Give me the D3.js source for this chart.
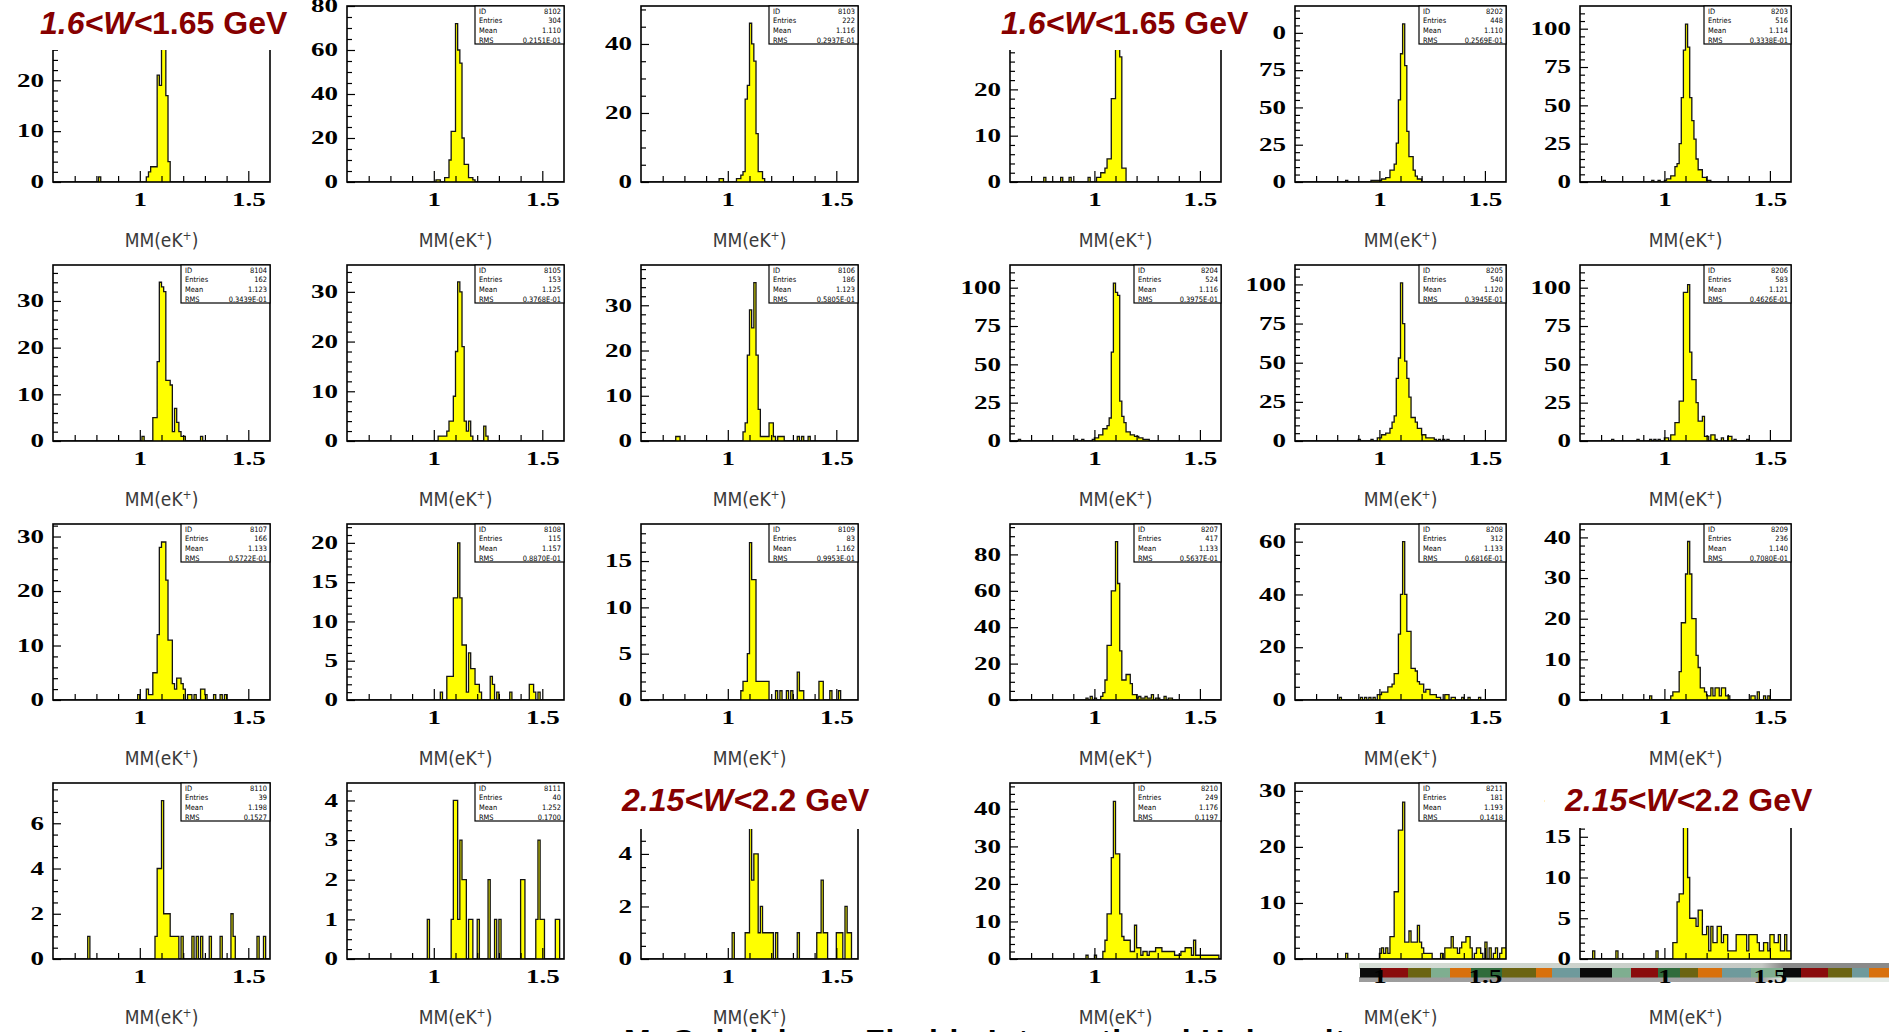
<!DOCTYPE html>
<html>
<head>
<meta charset="utf-8">
<title>MM(eK+) histograms</title>
<script src="https://cdn.jsdelivr.net/npm/d3@7"></script>
<style>
  body { margin: 0; background: #fff; }
  svg { display: block; }
</style>
</head>
<body>
<div id="vis"></div>
<script>
// ---- values ----

// every histogram: MM(eK+) from 0.6 to 1.6 GeV in 100 bins
const X_LO = 0.6;
const X_HI = 1.6;
const N_BINS = 100;
const X_MAJOR = [1, 1.5];
const X_MINOR = [0.7, 0.8, 0.9, 1.1, 1.2, 1.3, 1.4];

// ids, row by row, six per row (left block 81xx, right block 82xx)
const HIST_IDS = ["8101", "8102", "8103", "8201", "8202", "8203",
                  "8104", "8105", "8106", "8204", "8205", "8206",
                  "8107", "8108", "8109", "8207", "8208", "8209",
                  "8110", "8111", "8112", "8210", "8211", "8212"];

// non-empty bins as [bin index, entries]
const H8101 = [[21,1],[43,1],[44,2],[45,3],[46,3],[47,3],[48,21],[49,19],[50,33],[51,30],[52,17],[53,4]];
const H8102 = [[41,1],[42,1],[45,2],[46,2],[47,10],[48,23],[49,23],[50,72],[51,60],[52,54],[53,20],[54,8],[55,8],[56,2],[57,2],[58,1]];
const H8103 = [[36,1],[37,1],[44,1],[45,1],[46,2],[47,3],[48,24],[49,28],[50,46],[51,40],[52,35],[53,14],[54,3],[55,3],[56,1]];
const H8201 = [[16,1],[24,1],[28,1],[37,1],[41,1],[42,1],[43,2],[44,2],[45,3],[46,5],[47,5],[48,18],[49,18],[50,33],[51,30],[52,27],[53,3],[54,3]];
const H8202 = [[24,1],[36,1],[37,1],[38,1],[39,1],[40,1],[41,2],[42,2],[43,3],[44,3],[45,8],[46,8],[47,12],[48,26],[49,55],[50,86],[51,106],[52,78],[53,34],[54,17],[55,17],[56,8],[57,4],[58,2],[59,2]];
const H8203 = [[11,1],[34,1],[37,1],[40,1],[41,2],[42,2],[43,4],[44,4],[45,10],[46,12],[47,25],[48,55],[49,86],[50,103],[51,88],[52,55],[53,40],[54,28],[55,15],[56,8],[57,8],[58,3],[59,3],[60,1],[61,1]];

const H8104 = [[41,1],[46,5],[47,5],[48,17],[49,34],[50,33],[51,32],[52,13],[53,13],[54,12],[55,2],[56,7],[57,4],[58,2],[59,1],[60,1],[68,1]];
const H8105 = [[42,1],[43,1],[44,1],[45,1],[46,2],[47,4],[48,4],[49,9],[50,18],[51,32],[52,30],[53,19],[54,4],[55,2],[56,4],[57,1],[63,3],[64,1]];
const H8106 = [[16,1],[17,1],[47,2],[48,4],[49,19],[50,29],[51,25],[52,35],[53,19],[54,7],[55,1],[56,1],[57,1],[58,1],[59,4],[60,4],[61,1],[63,1],[64,1],[65,1],[72,1],[74,1],[77,1]];
const H8204 = [[4,1],[31,1],[34,1],[39,1],[40,2],[41,2],[42,4],[43,4],[44,8],[45,8],[46,10],[47,15],[48,58],[49,103],[50,97],[51,95],[52,26],[53,16],[54,12],[55,6],[56,6],[57,4],[58,4],[59,3],[60,3],[61,2],[62,2],[63,1],[64,1],[65,1]];
const H8205 = [[30,1],[36,1],[39,2],[40,2],[41,4],[42,4],[43,5],[44,5],[45,8],[46,12],[47,16],[48,40],[49,53],[50,101],[51,75],[52,51],[53,40],[54,28],[55,15],[56,15],[57,12],[58,8],[59,8],[60,4],[61,4],[62,2],[63,2],[64,2],[65,2],[66,1],[68,1],[70,1],[72,1]];
const H8206 = [[15,1],[27,1],[33,1],[35,1],[37,1],[40,2],[41,2],[43,4],[44,4],[45,12],[46,12],[47,26],[48,26],[49,97],[50,97],[51,102],[52,58],[53,40],[54,40],[55,25],[56,13],[57,13],[58,16],[59,3],[60,3],[62,4],[63,4],[64,1],[67,2],[70,3],[71,3],[73,1],[79,1]];

const H8107 = [[39,1],[43,2],[44,1],[45,1],[46,5],[47,5],[48,12],[49,28],[50,29],[51,29],[52,22],[53,11],[54,11],[55,3],[56,2],[57,4],[58,4],[59,3],[60,2],[62,1],[63,1],[65,1],[68,2],[69,2],[70,1],[74,1],[77,1],[79,1]];
const H8108 = [[43,1],[46,3],[47,3],[48,3],[49,13],[50,13],[51,20],[52,13],[53,7],[54,7],[55,1],[56,6],[57,4],[58,4],[59,2],[60,2],[61,1],[66,3],[67,2],[69,1],[75,1],[84,2],[85,2],[86,1],[88,1]];
const H8109 = [[46,1],[47,2],[48,2],[49,5],[50,17],[51,13],[52,13],[53,2],[54,2],[55,2],[56,2],[57,2],[58,2],[62,1],[64,1],[67,1],[69,1],[72,3],[73,1],[74,1],[82,2],[83,2],[87,1],[91,1]];
const H8207 = [[36,1],[38,2],[40,1],[43,2],[44,4],[45,11],[46,30],[47,30],[48,60],[49,60],[50,87],[51,64],[52,27],[53,11],[54,11],[55,14],[56,14],[57,9],[58,3],[59,3],[60,1],[61,2],[62,1],[63,1],[64,2],[65,1],[66,1],[67,3],[69,1],[70,1],[73,2],[75,1],[76,1]];
const H8208 = [[21,1],[31,1],[33,1],[35,1],[37,1],[39,2],[40,2],[41,3],[42,3],[43,3],[44,5],[45,5],[46,6],[47,10],[48,10],[49,25],[50,40],[51,60],[52,40],[53,26],[54,26],[55,12],[56,12],[57,11],[58,7],[59,6],[60,6],[61,3],[62,4],[63,4],[64,2],[65,2],[66,2],[67,1],[68,1],[71,2],[72,2],[74,1],[75,1],[79,1],[82,1],[87,1]];
const H8209 = [[33,1],[43,1],[44,2],[45,2],[46,2],[47,7],[48,19],[49,19],[50,31],[51,39],[52,31],[53,20],[54,20],[55,11],[56,8],[57,3],[58,3],[59,2],[60,1],[61,1],[62,3],[63,1],[64,3],[65,3],[66,1],[67,3],[68,3],[69,1],[70,1],[81,1],[82,1],[84,2],[87,1],[89,1]];

const H8110 = [[16,1],[47,1],[48,4],[49,4],[50,7],[51,2],[52,2],[53,2],[54,1],[55,1],[56,1],[57,1],[59,1],[64,1],[66,1],[68,1],[72,1],[77,1],[82,2],[83,1],[94,1],[97,1]];
const H8111 = [[37,1],[48,1],[49,4],[50,4],[51,1],[52,3],[53,2],[54,2],[56,1],[57,1],[60,1],[65,2],[68,1],[70,1],[80,2],[81,2],[87,1],[88,3],[89,1],[90,1],[96,1],[97,1]];
const H8112 = [[42,1],[48,1],[49,1],[50,5],[51,3],[52,4],[53,4],[54,1],[55,2],[56,1],[57,1],[58,1],[59,1],[60,1],[62,1],[72,1],[81,1],[82,1],[83,3],[84,1],[85,1],[90,1],[91,1],[92,1],[94,2],[95,1],[96,1]];
const H8210 = [[36,1],[40,1],[44,2],[45,5],[46,12],[47,12],[48,27],[49,42],[50,28],[51,28],[52,12],[53,6],[54,5],[55,5],[56,5],[57,2],[58,2],[59,9],[60,3],[61,3],[62,1],[63,2],[64,2],[65,1],[66,2],[67,2],[68,2],[69,3],[70,3],[71,3],[72,2],[73,2],[74,2],[75,2],[76,2],[77,2],[78,1],[79,1],[80,1],[81,2],[82,2],[83,3],[84,3],[85,3],[86,1],[87,5],[88,1],[89,1],[90,1],[91,1],[92,1],[93,1],[94,1],[95,1],[96,1],[97,1],[98,1]];
const H8211 = [[24,1],[40,1],[41,2],[42,1],[43,2],[44,1],[45,4],[46,4],[47,12],[48,12],[49,23],[50,23],[51,28],[52,3],[53,3],[54,5],[55,3],[56,3],[57,3],[58,6],[59,3],[60,2],[61,1],[62,1],[63,1],[64,1],[69,1],[71,2],[72,2],[73,2],[74,4],[75,2],[76,2],[77,1],[78,2],[79,3],[80,3],[81,4],[82,4],[83,2],[85,1],[86,2],[87,2],[88,1],[90,3],[92,2],[94,1],[95,2],[97,1],[98,2],[99,2]];
const H8212 = [[6,1],[17,1],[36,1],[44,2],[45,2],[46,7],[47,8],[48,8],[49,22],[50,28],[51,10],[52,5],[53,5],[54,5],[55,4],[56,6],[57,6],[58,3],[59,3],[60,4],[61,1],[62,4],[63,2],[64,2],[65,4],[66,4],[67,2],[68,3],[69,3],[70,1],[71,1],[72,1],[73,1],[74,3],[75,3],[76,3],[77,3],[78,3],[79,1],[80,3],[81,3],[82,3],[83,3],[84,2],[85,1],[86,1],[87,2],[88,2],[89,1],[90,3],[91,3],[92,2],[93,2],[94,3],[95,1],[96,1],[97,3],[98,1],[99,1]];

const HISTS = [H8101, H8102, H8103, H8201, H8202, H8203,
               H8104, H8105, H8106, H8204, H8205, H8206,
               H8107, H8108, H8109, H8207, H8208, H8209,
               H8110, H8111, H8112, H8210, H8211, H8212];

// statistics boxes (null where a title covers the box)
const ENTRIES = [null, 304, 222, null, 448, 516,
                 162, 153, 186, 524, 540, 583,
                 166, 115, 83, 417, 312, 236,
                 39, 40, null, 249, 181, null];
const MEANS = [null, "1.110", "1.116", null, "1.110", "1.114",
               "1.123", "1.125", "1.123", "1.116", "1.120", "1.121",
               "1.133", "1.157", "1.162", "1.133", "1.133", "1.140",
               "1.198", "1.252", null, "1.176", "1.193", null];
const RMS = [null, "0.2151E-01", "0.2937E-01", null, "0.2569E-01", "0.3338E-01",
             "0.3439E-01", "0.3768E-01", "0.5805E-01", "0.3975E-01", "0.3945E-01", "0.4626E-01",
             "0.5722E-01", "0.8870E-01", "0.9953E-01", "0.5637E-01", "0.6816E-01", "0.7080E-01",
             "0.1527", "0.1700", null, "0.1197", "0.1418", null];

// y axis of every panel: top of the frame, labelled step, small step
const Y_MAX = [34.6, 80, 51, 38, 118, 114.8,
               37.7, 35.4, 38.9, 114.8, 112.4, 114.8,
               32.3, 22.4, 19, 96.7, 66.7, 43.3,
               7.78, 4.44, 6.7, 46.9, 31.4, 21.6];
const Y_MAJOR = [10, 20, 20, 10, 25, 25,
                 10, 10, 10, 25, 25, 25,
                 10, 5, 5, 20, 20, 10,
                 2, 1, 2, 10, 10, 5];
const Y_MINOR = [2, 5, 5, 2, 5, 5,
                 2, 2, 2, 5, 5, 5,
                 2, 1, 1, 5, 5, 2,
                 0.5, 0.25, 0.5, 2, 2, 1];

// W-bin titles pasted over four panels
const TITLE_PANELS = [0, 3, 20, 23];
const TITLE_LO = ["1.6", "1.6", "2.15", "2.15"];
const TITLE_HI = ["1.65", "1.65", "2.2", "2.2"];
const FOOTER = "M. Gabrielyan,   Florida International University";


// ---- layout ----
const FRAME_WIDTH = 1889;
const FRAME_HEIGHT = 1032;
const COL_X = [53, 347, 641, 1010, 1295, 1580];
const COL_W = [217, 217, 217, 211, 211, 211];
const ROW_Y = [6, 265, 524, 783];
const PANEL_H = 176;

// offsets of each title and of the white patch behind it, from its panel frame
const TITLE_DX = [-13, -9, -19, -15];
const PATCH = [[-53, 239, 44], [-45, 262, 44], [-41, 234, 46], [-35, 250, 45]];

const TICK_FONT = "'Liberation Serif', 'DejaVu Serif', serif";
const LABEL_STRETCH = 1.5;   // the PAW digits are drawn wide

const BIN_W = (X_HI - X_LO) / N_BINS;

const FRAME1 = d3.select("#vis")
                 .append("svg")
                   .attr("width", FRAME_WIDTH)
                   .attr("height", FRAME_HEIGHT)
                   .attr("class", "frame");

FRAME1.append("rect").attr("width", FRAME_WIDTH).attr("height", FRAME_HEIGHT).attr("fill", "#fff");

// the coloured slide bar at the bottom right (drawn first, labels go over it)
const STRIP = [["#0b0b0b",21],["#8a0c0c",27],["#6b6412",23],["#7fae90",19],["#d8700c",21],["#2f6b3b",31],
               ["#6b6412",34],["#d8700c",16],["#6f9a9c",28],["#0b0b0b",32],["#7fae90",19],["#8a0c0c",27],
               ["#2f6b3b",22],["#6b6412",18],["#d8700c",24],["#6f9a9c",29],["#7fae90",32],["#0b0b0b",18],
               ["#8a0c0c",27],["#6b6412",24],["#6f9a9c",17],["#d8700c",20]];
function drawStrip() {
  const x0 = 1360, top = 963;
  const defs = FRAME1.append("defs");
  const gTop = defs.append("linearGradient").attr("id", "stripTop");
  gTop.append("stop").attr("offset", "0").attr("stop-color", "#d7dfd7");
  gTop.append("stop").attr("offset", "0.76").attr("stop-color", "#c4c8c4");
  gTop.append("stop").attr("offset", "0.8").attr("stop-color", "#8a8a8a");
  gTop.append("stop").attr("offset", "1").attr("stop-color", "#8a8a8a");
  const gBot = defs.append("linearGradient").attr("id", "stripBot");
  gBot.append("stop").attr("offset", "0").attr("stop-color", "#9c9c9c");
  gBot.append("stop").attr("offset", "0.76").attr("stop-color", "#a4a4a4");
  gBot.append("stop").attr("offset", "0.8").attr("stop-color", "#e4eae4");
  gBot.append("stop").attr("offset", "1").attr("stop-color", "#e4eae4");
  FRAME1.append("rect").attr("x", x0 - 1).attr("y", top).attr("width", FRAME_WIDTH - x0 + 1).attr("height", 6)
        .attr("fill", "url(#stripTop)");
  FRAME1.append("rect").attr("x", x0 - 1).attr("y", top + 14).attr("width", FRAME_WIDTH - x0 + 1).attr("height", 5)
        .attr("fill", "url(#stripBot)");
  let x = x0;
  STRIP.forEach(([c, w]) => {
    FRAME1.append("rect").attr("x", x).attr("y", top + 5).attr("width", w).attr("height", 9.5).attr("fill", c);
    x += w;
  });
}
drawStrip();

// stretch tick digits sideways like the PAW output
function widen(sel) {
  sel.selectAll(".tick text").each(function () {
    const w = this.getComputedTextLength();
    d3.select(this).attr("textLength", w * LABEL_STRETCH).attr("lengthAdjust", "spacingAndGlyphs");
  });
}

function drawPanel(k) {
  const row = Math.floor(k / 6), col = k % 6;
  const fx = COL_X[col], fw = COL_W[col], fy = ROW_Y[row], fh = PANEL_H;

  const X_SCALE = d3.scaleLinear().domain([X_LO, X_HI]).range([fx, fx + fw]);
  const Y_SCALE = d3.scaleLinear().domain([0, Y_MAX[k]]).range([fy + fh, fy]);

  const g = FRAME1.append("g").attr("class", "panel");

  g.append("clipPath").attr("id", "clip" + k)
    .append("rect").attr("x", fx).attr("y", fy).attr("width", fw).attr("height", fh);

  // fill the bins
  const counts = new Array(N_BINS).fill(0);
  HISTS[k].forEach(([i, n]) => { counts[i] = n; });
  const pts = counts.map((n, i) => [X_LO + i * BIN_W, n]);
  pts.push([X_HI, counts[N_BINS - 1]]);

  const area = d3.area().curve(d3.curveStepAfter)
                 .x(d => X_SCALE(d[0])).y0(Y_SCALE(0)).y1(d => Y_SCALE(d[1]));
  const line = d3.line().curve(d3.curveStepAfter)
                 .x(d => X_SCALE(d[0])).y(d => Y_SCALE(d[1]));

  g.append("path").attr("clip-path", `url(#clip${k})`)
    .attr("d", area(pts)).attr("fill", "#ffff00");
  g.append("path").attr("clip-path", `url(#clip${k})`)
    .attr("d", line(pts)).attr("fill", "none")
    .attr("stroke", "#141414").attr("stroke-width", 1.3).attr("stroke-linejoin", "miter");

  // x axis: small ticks, then the labelled ones
  g.append("g").attr("transform", `translate(0,${fy + fh})`)
    .call(d3.axisBottom(X_SCALE).tickValues(X_MINOR).tickSize(-6).tickFormat(""))
    .call(a => a.select(".domain").remove())
    .selectAll("line").attr("stroke-width", 1.2);
  const gx = g.append("g").attr("transform", `translate(0,${fy + fh})`)
    .call(d3.axisBottom(X_SCALE).tickValues(X_MAJOR).tickSize(-11).tickPadding(11).tickFormat(d => String(d)))
    .call(a => a.select(".domain").remove())
    .attr("font-size", 18).attr("font-family", TICK_FONT).attr("font-weight", "bold");
  gx.selectAll("line").attr("stroke-width", 1.2);
  widen(gx);

  // y axis
  const major = d3.range(0, Y_MAX[k] + 1e-9, Y_MAJOR[k]);
  const minor = d3.range(0, Y_MAX[k], Y_MINOR[k])
                  .filter(v => Math.abs(v / Y_MAJOR[k] - Math.round(v / Y_MAJOR[k])) > 1e-6);
  g.append("g").attr("transform", `translate(${fx},0)`)
    .call(d3.axisLeft(Y_SCALE).tickValues(minor).tickSize(-5).tickFormat(""))
    .call(a => a.select(".domain").remove())
    .selectAll("line").attr("stroke-width", 1.2);
  const gy = g.append("g").attr("transform", `translate(${fx},0)`)
    .call(d3.axisLeft(Y_SCALE).tickValues(major).tickSize(-8).tickPadding(9).tickFormat(d => String(d)))
    .call(a => a.select(".domain").remove())
    .attr("font-size", 18).attr("font-family", TICK_FONT).attr("font-weight", "bold");
  gy.selectAll("line").attr("stroke-width", 1.2);
  widen(gy);

  // frame
  g.append("rect").attr("x", fx).attr("y", fy).attr("width", fw).attr("height", fh)
    .attr("fill", "none").attr("stroke", "#000").attr("stroke-width", 1.6);

  // statistics box
  if (ENTRIES[k] !== null) {
    const bw = Math.round(fw * 0.41), bh = 38;
    const bx = fx + fw - bw, by = fy;
    g.append("rect").attr("x", bx).attr("y", by).attr("width", bw).attr("height", bh)
      .attr("fill", "#fff").attr("stroke", "#000").attr("stroke-width", 1.2);
    const rows = [["ID", HIST_IDS[k]], ["Entries", ENTRIES[k]], ["Mean", MEANS[k]], ["RMS", RMS[k]]];
    rows.forEach(([name, val], j) => {
      const yy = by + 7.8 + j * 9.6;
      g.append("text").attr("x", bx + 4).attr("y", yy).text(name)
        .attr("font-family", "'DejaVu Sans Condensed', 'DejaVu Sans', sans-serif").attr("font-size", 7.4);
      g.append("text").attr("x", bx + bw - 3).attr("y", yy).attr("text-anchor", "end").text(val)
        .attr("font-family", "'DejaVu Sans Condensed', 'DejaVu Sans', sans-serif").attr("font-size", 7.4);
    });
  }

  // axis title under the panel
  const lab = g.append("text").attr("x", fx + fw / 2).attr("y", fy + fh + 64.5)
    .attr("text-anchor", "middle").attr("fill", "#3a3a3a")
    .attr("font-family", "'DejaVu Sans Condensed', 'DejaVu Sans', sans-serif").attr("font-size", 19);
  lab.append("tspan").text("MM(eK");
  lab.append("tspan").text("+").attr("font-size", 12).attr("baseline-shift", "super");
  lab.append("tspan").text(")");
}

HIST_IDS.forEach((id, k) => drawPanel(k));

// W-bin titles on white patches
TITLE_PANELS.forEach((k, t) => {
  const row = Math.floor(k / 6), col = k % 6;
  const fx = COL_X[col], fy = ROW_Y[row];
  const [p0, p1, pb] = PATCH[t];
  FRAME1.append("rect").attr("x", Math.max(0, fx + p0)).attr("y", fy - 6)
        .attr("width", fx + p1 - Math.max(0, fx + p0)).attr("height", pb + 6)
        .attr("fill", "#fff");
  const txt = FRAME1.append("text").attr("x", fx + TITLE_DX[t]).attr("y", fy + 27.5)
        .attr("fill", "#860000").attr("font-family", "'Liberation Sans', Arial, sans-serif")
        .attr("font-weight", "bold").attr("font-size", 32);
  txt.append("tspan").attr("font-style", "italic").text(TITLE_LO[t] + "<W<");
  txt.append("tspan").text(TITLE_HI[t] + " GeV");
});

// slide footer, cut by the bottom edge
FRAME1.append("text").attr("x", 624).attr("y", 1052)
      .attr("font-family", "'Liberation Sans', Arial, sans-serif").attr("font-weight", "bold")
      .attr("font-size", 32).attr("fill", "#000")
      .attr("textLength", 740).attr("lengthAdjust", "spacing")
      .text(FOOTER);
</script>
</body>
</html>
